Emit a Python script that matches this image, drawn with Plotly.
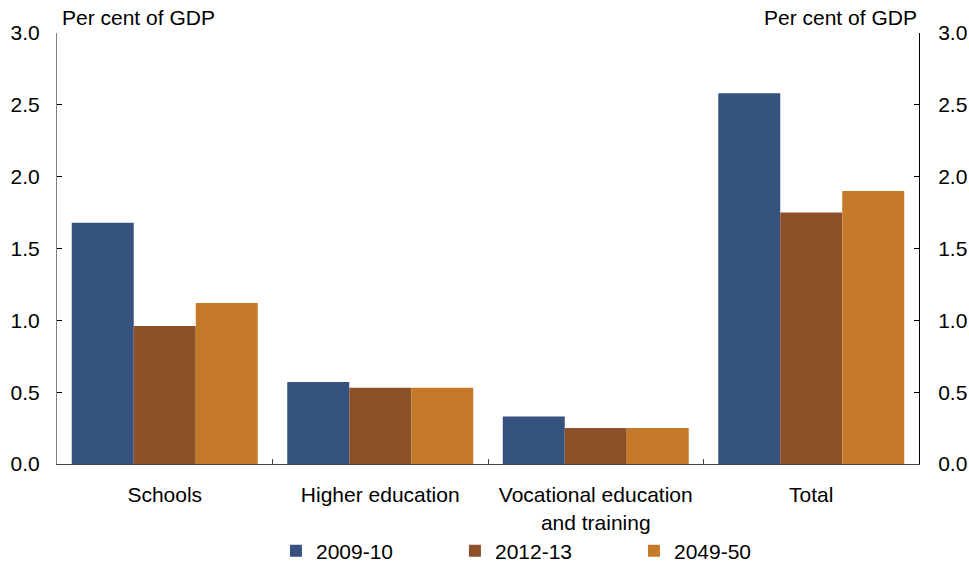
import plotly.graph_objects as go

# Education spending by sector, per cent of GDP
categories = ["Schools", "Higher education", "Vocational education<br>and training", "Total"]
series_names = ["2009-10", "2012-13", "2049-50"]
values_2009 = [1.68, 0.57, 0.33, 2.58]
values_2012 = [0.96, 0.53, 0.25, 1.75]
values_2049 = [1.12, 0.53, 0.25, 1.90]
y_ticks = [0.0, 0.5, 1.0, 1.5, 2.0, 2.5, 3.0]

colors = ["#36537F", "#8D512A", "#C57A29"]
FONT = "Liberation Sans, Arial, sans-serif"
FS = 21

fig = go.Figure()
for name, vals, col in zip(series_names, [values_2009, values_2012, values_2049], colors):
    fig.add_trace(go.Bar(
        x=categories, y=vals, name=name,
        marker=dict(color=col, line=dict(width=0)),
    ))

# mirror axis on the right carries the same scale
fig.add_trace(go.Scatter(
    x=categories, y=values_2009, yaxis="y2", mode="markers",
    marker=dict(opacity=0), showlegend=False, hoverinfo="skip",
))

fig.update_layout(
    width=969, height=567,
    margin=dict(l=57, r=50, t=33, b=103),
    paper_bgcolor="white", plot_bgcolor="white",
    font=dict(family=FONT, size=FS, color="#000"),
    barmode="group", bargap=0.137, bargroupgap=0,
    showlegend=True,
    legend=dict(
        orientation="h", x=0.254, xanchor="left",
        yref="container", y=0.028, yanchor="middle",
        font=dict(size=FS), entrywidth=134, itemwidth=30,
        traceorder="normal", tracegroupgap=0,
        bgcolor="rgba(0,0,0,0)",
    ),
    xaxis=dict(
        showline=True, linecolor="#444", linewidth=1,
        ticks="inside", tickson="boundaries", ticklen=5, tickcolor="#444",
        showgrid=False, ticklabelstandoff=12, automargin=False,
    ),
    yaxis=dict(
        range=[0, 3.0], tickvals=y_ticks, tickformat=".1f",
        showline=True, linecolor="#808080", linewidth=1,
        ticks="inside", ticklen=5, tickcolor="#000",
        showgrid=False, zeroline=False, ticklabelstandoff=12, automargin=False,
    ),
    yaxis2=dict(
        range=[0, 3.0], tickvals=y_ticks, tickformat=".1f",
        overlaying="y", side="right", anchor="x",
        showline=True, linecolor="#000", linewidth=1,
        ticks="inside", ticklen=5, tickcolor="#000",
        showgrid=False, zeroline=False, ticklabelstandoff=14, automargin=False,
    ),
    annotations=[
        dict(text="Per cent of GDP", xref="paper", yref="paper", x=0.003, y=1.037,
             xanchor="left", yanchor="middle", showarrow=False, font=dict(size=FS)),
        dict(text="Per cent of GDP", xref="paper", yref="paper", x=1.0, y=1.037,
             xanchor="right", yanchor="middle", showarrow=False, font=dict(size=FS)),
    ],
)

fig.write_html("out.html")
